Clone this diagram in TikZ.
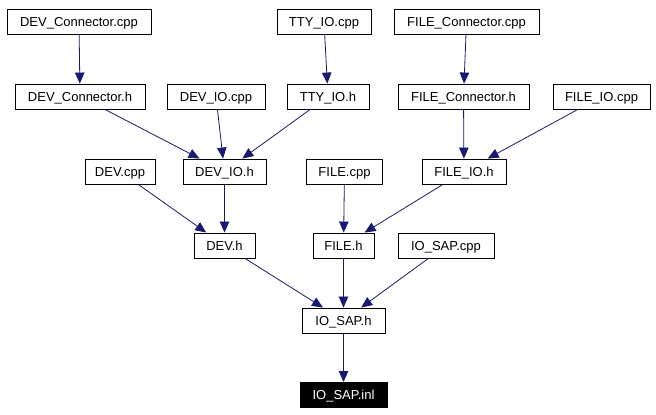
\documentclass[tikz,border=0pt]{standalone}
\usepackage{fontspec}
\setmainfont{Liberation Sans}
\usetikzlibrary{arrows.meta}
\definecolor{edgeblue}{HTML}{191970}
\tikzset{
  filebox/.style={draw=black, line width=0.9pt, fill=white, inner xsep=2pt, inner ysep=0pt,
    minimum height=25pt, text height=9.3pt, text depth=0pt,
    font=\fontsize{13}{15}\selectfont},
  mainbox/.style={filebox, fill=black, text=white},
  dep/.style={draw=edgeblue, line width=0.8pt, -{Triangle[length=11pt,width=9.5pt]}}
}
\begin{document}
\begin{tikzpicture}[x=1pt,y=-1pt]
\useasboundingbox (0,0) rectangle (656,415);
% row 1
\node[filebox, minimum width=144pt] (devconcpp) at (79,21.5) {DEV\_Connector.cpp};
\node[filebox, minimum width=94pt] (ttycpp) at (324,21.5) {TTY\_IO.cpp};
\node[filebox, minimum width=145pt] (fileconcpp) at (466.5,21.5) {FILE\_Connector.cpp};
% row 2
\node[filebox, minimum width=130pt] (devconh) at (80,96.5) {DEV\_Connector.h};
\node[filebox, minimum width=98pt] (deviocpp) at (216,96.5) {DEV\_IO.cpp};
\node[filebox, minimum width=82pt] (ttyh) at (328,96.5) {TTY\_IO.h};
\node[filebox, minimum width=131pt] (fileconh) at (463.5,96.5) {FILE\_Connector.h};
\node[filebox, minimum width=97pt] (fileiocpp) at (601.5,96.5) {FILE\_IO.cpp};
% row 3
\node[filebox, minimum width=70pt] (devcpp) at (120,171.5) {DEV.cpp};
\node[filebox, minimum width=83pt] (devioh) at (224.5,171.5) {DEV\_IO.h};
\node[filebox, minimum width=76pt] (filecpp) at (344.5,171.5) {FILE.cpp};
\node[filebox, minimum width=84pt] (fileioh) at (464,171.5) {FILE\_IO.h};
% row 4
\node[filebox, minimum width=61pt] (devh) at (224.5,245.5) {DEV.h};
\node[filebox, minimum width=61pt] (fileh) at (343.5,245.5) {FILE.h};
\node[filebox, minimum width=96pt] (iosapcpp) at (446,245.5) {IO\_SAP.cpp};
% row 5
\node[filebox, minimum width=83pt] (iosaph) at (343.5,320.5) {IO\_SAP.h};
% row 6
\node[mainbox, minimum width=87pt] (iosapinl) at (343.5,395) {IO\_SAP.inl};
% edges
\draw[dep] (devconcpp) -- (devconh);
\draw[dep] (ttycpp) -- (ttyh);
\draw[dep] (fileconcpp) -- (fileconh);
\draw[dep] (devconh) -- (devioh);
\draw[dep] (deviocpp) -- (devioh);
\draw[dep] (ttyh) -- (devioh);
\draw[dep] (fileconh) -- (fileioh);
\draw[dep] (fileiocpp) -- (fileioh);
\draw[dep] (devcpp) -- (devh);
\draw[dep] (devioh) -- (devh);
\draw[dep] (filecpp) -- (fileh);
\draw[dep] (fileioh) -- (fileh);
\draw[dep] (devh) -- (iosaph);
\draw[dep] (fileh) -- (iosaph);
\draw[dep] (iosapcpp) -- (iosaph);
\draw[dep] (iosaph) -- (iosapinl);
\end{tikzpicture}
\end{document}
